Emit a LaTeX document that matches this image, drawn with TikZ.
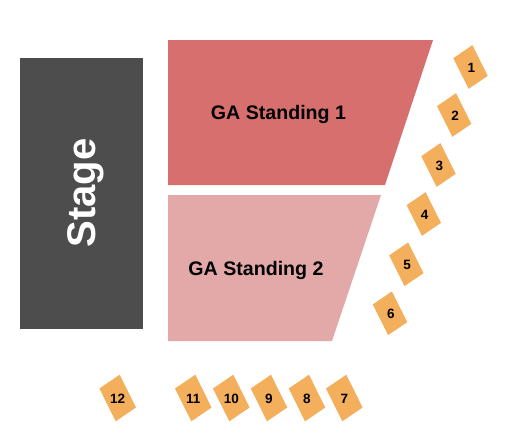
\documentclass[tikz,border=0pt]{standalone}
\usepackage{fontspec}
\setmainfont{Liberation Sans}
\definecolor{stagegray}{HTML}{4D4D4D}
\definecolor{garedone}{HTML}{D76F6F}
\definecolor{garedtwo}{HTML}{E3A8A8}
\definecolor{seatorange}{HTML}{F4AF5D}
\begin{document}
\begin{tikzpicture}[
  x=1pt, y=-1pt,
  seat/.style={fill=seatorange},
  seatnum/.style={font=\fontsize{13.5}{13.5}\bfseries, text=black, inner sep=0pt, yshift=-.6pt},
  galabel/.style={font=\fontsize{19.6}{19.6}\bfseries, text=black, inner sep=0pt, yshift=-2pt}
]
\useasboundingbox (0,0) rectangle (525,442);

% stage and standing areas
\fill[stagegray] (20,58) rectangle (143,329);
\fill[garedone] (168,40) -- (433,40) -- (385,185) -- (168,185) -- cycle;
\fill[garedtwo] (168,195) -- (381,195) -- (332,341) -- (168,341) -- cycle;

\node[font=\fontsize{40}{40}\bfseries, text=white, rotate=90, inner sep=0pt] (stage) at (86,193) {Stage};
\node[galabel] (ga1) at (278.5,112) {GA Standing 1};
\node[galabel] (ga2) at (256,268) {GA Standing 2};

% seats on the right
\foreach \n/\x/\y in {1/470.5/67, 2/454.2/115, 3/438.5/165, 4/423.8/214, 5/406.3/264.3, 6/390/313.3} {
  \fill[seat, shift={(\x,\y)}] (1.85,-21.85) -- (17.2,8.85) -- (-1.85,21.85) -- (-17.2,-8.85) -- cycle;
  \node[seatnum] (num\n) at (\x+.8,\y) {\n};
}

% seats along the bottom
\foreach \n/\x in {7/344.3, 8/307, 9/269, 10/231.3, 11/193.3, 12/117.7} {
  \fill[seat, shift={(\x,398)}] (2,-23.3) -- (18.3,9.5) -- (-2,23.3) -- (-18.3,-9.5) -- cycle;
  \node[seatnum] (num\n) at (\x,398) {\n};
}
\end{tikzpicture}
\end{document}
